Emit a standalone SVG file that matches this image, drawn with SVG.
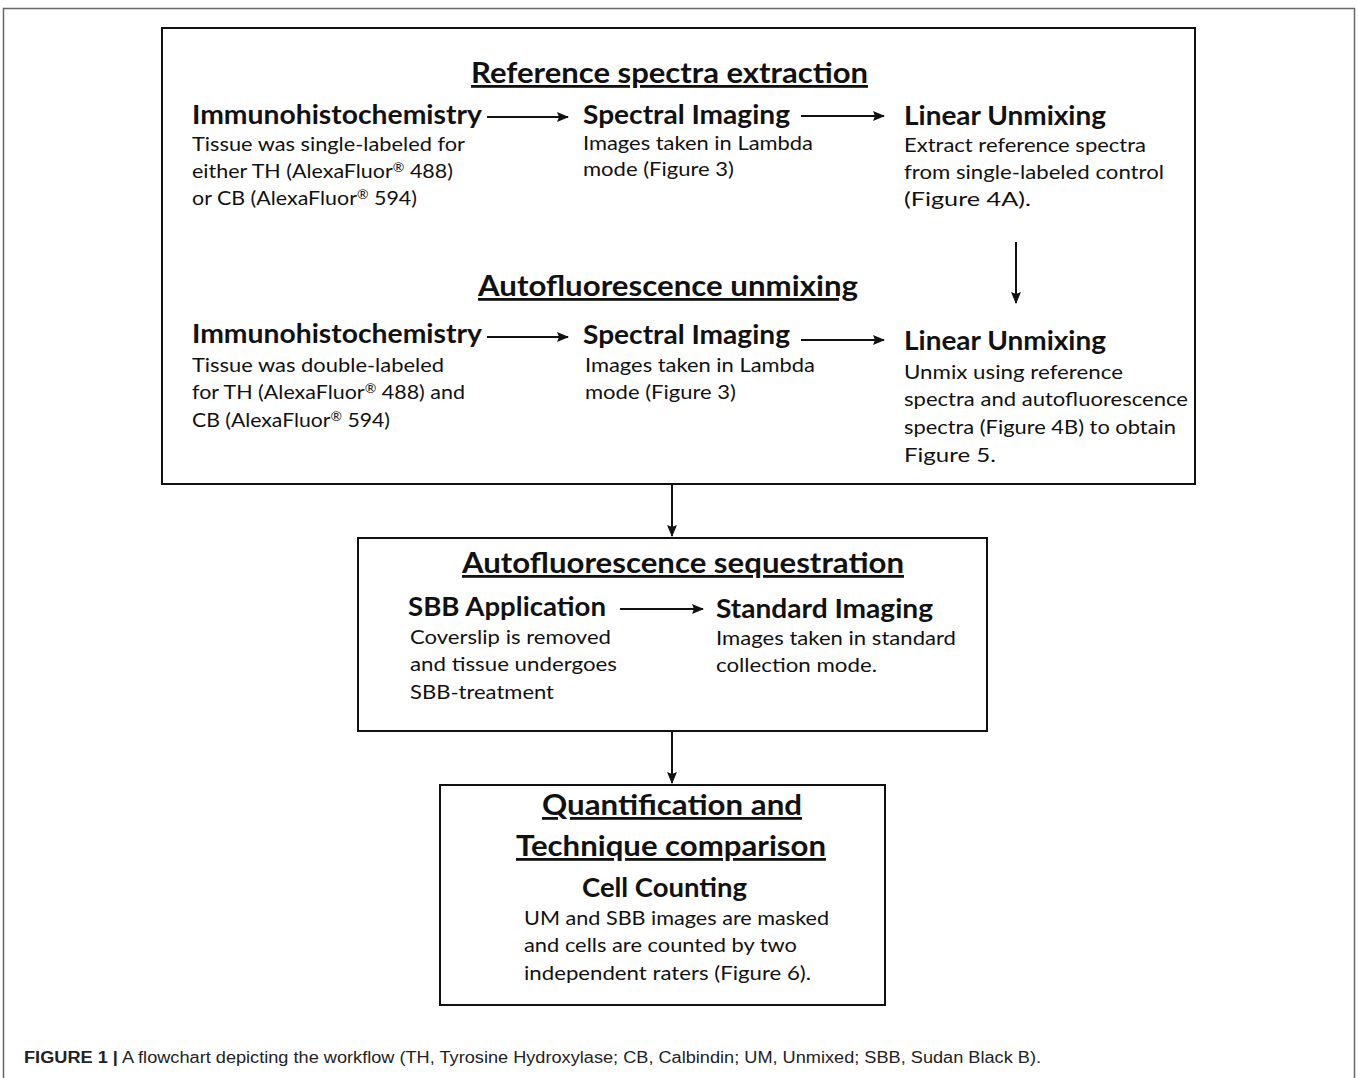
<svg xmlns="http://www.w3.org/2000/svg" width="1358" height="1078" viewBox="0 0 1358 1078">
<defs>
<marker id="ah" markerWidth="12" markerHeight="10" refX="11" refY="5" orient="auto" markerUnits="userSpaceOnUse">
<path d="M0,0 L12,5 L0,10 L2,5 Z" fill="#111"/>
</marker>
<style>
.box{fill:#fff;stroke:#111;stroke-width:2}
.ttl{font-family:Lato,"Open Sans",sans-serif;font-size:28px;font-weight:700;fill:#111;text-decoration:underline}
.hd{font-family:Lato,"Open Sans",sans-serif;font-size:26px;font-weight:700;fill:#111}
.tx{font-family:Lato,"Open Sans",sans-serif;font-size:20px;fill:#111}
.r{font-size:13px;baseline-shift:6px}
.con{stroke:#111;stroke-width:2;fill:none;marker-end:url(#ah)}
.cap{font-family:"Liberation Sans",Arial,sans-serif;font-size:16px;fill:#222}
</style>
</defs>
<rect width="1358" height="1078" fill="#fff"/>
<path d="M3.5,1078 V8.5 H1354.5 V1078" fill="none" stroke="#666" stroke-width="1.5"/>

<g id="box1">
<rect class="box" x="162" y="28" width="1033" height="456"/>
<text class="ttl" x="471" y="83" textLength="397" lengthAdjust="spacingAndGlyphs">Reference spectra  extraction</text>
<text class="ttl" x="478" y="296" textLength="380" lengthAdjust="spacingAndGlyphs">Autofluorescence  unmixing</text>
</g>

<g id="ihc1">
<text class="hd" x="192" y="124" textLength="290" lengthAdjust="spacingAndGlyphs">Immunohistochemistry</text>
<text class="tx" x="192" y="151" textLength="273" lengthAdjust="spacingAndGlyphs">Tissue was single-labeled for</text>
<text class="tx" x="192" y="178" textLength="261" lengthAdjust="spacingAndGlyphs">either TH (AlexaFluor<tspan class="r">®</tspan> 488)</text>
<text class="tx" x="192" y="205" textLength="225" lengthAdjust="spacingAndGlyphs">or CB (AlexaFluor<tspan class="r">®</tspan> 594)</text>
</g>
<g id="spec1">
<text class="hd" x="583" y="124" textLength="207" lengthAdjust="spacingAndGlyphs">Spectral Imaging</text>
<text class="tx" x="583" y="150" textLength="230" lengthAdjust="spacingAndGlyphs">Images taken in Lambda</text>
<text class="tx" x="583" y="176" textLength="151" lengthAdjust="spacingAndGlyphs">mode (Figure 3)</text>
</g>
<g id="lin1">
<text class="hd" x="904" y="125" textLength="202" lengthAdjust="spacingAndGlyphs">Linear Unmixing</text>
<text class="tx" x="904" y="152" textLength="242" lengthAdjust="spacingAndGlyphs">Extract reference spectra</text>
<text class="tx" x="904" y="179" textLength="260" lengthAdjust="spacingAndGlyphs">from single-labeled control</text>
<text class="tx" x="904" y="206" textLength="127" lengthAdjust="spacingAndGlyphs">(Figure 4A).</text>
</g>

<g id="ihc2">
<text class="hd" x="192" y="343" textLength="290" lengthAdjust="spacingAndGlyphs">Immunohistochemistry</text>
<text class="tx" x="192" y="372" textLength="252" lengthAdjust="spacingAndGlyphs">Tissue was double-labeled</text>
<text class="tx" x="192" y="399" textLength="273" lengthAdjust="spacingAndGlyphs">for TH (AlexaFluor<tspan class="r">®</tspan> 488) and</text>
<text class="tx" x="192" y="427" textLength="198" lengthAdjust="spacingAndGlyphs">CB (AlexaFluor<tspan class="r">®</tspan> 594)</text>
</g>
<g id="spec2">
<text class="hd" x="583" y="344" textLength="207" lengthAdjust="spacingAndGlyphs">Spectral Imaging</text>
<text class="tx" x="585" y="372" textLength="230" lengthAdjust="spacingAndGlyphs">Images taken in Lambda</text>
<text class="tx" x="585" y="399" textLength="151" lengthAdjust="spacingAndGlyphs">mode (Figure 3)</text>
</g>
<g id="lin2">
<text class="hd" x="904" y="350" textLength="202" lengthAdjust="spacingAndGlyphs">Linear Unmixing</text>
<text class="tx" x="904" y="379" textLength="219" lengthAdjust="spacingAndGlyphs">Unmix using reference</text>
<text class="tx" x="904" y="406" textLength="284" lengthAdjust="spacingAndGlyphs">spectra and autofluorescence</text>
<text class="tx" x="904" y="434" textLength="272" lengthAdjust="spacingAndGlyphs">spectra (Figure 4B) to obtain</text>
<text class="tx" x="904" y="462" textLength="92" lengthAdjust="spacingAndGlyphs">Figure 5.</text>
</g>

<g id="box2">
<rect class="box" x="358" y="538" width="629" height="193"/>
<text class="ttl" x="462" y="573" textLength="442" lengthAdjust="spacingAndGlyphs">Autofluorescence  sequestration</text>
</g>
<g id="sbb">
<text class="hd" x="408" y="616" textLength="198" lengthAdjust="spacingAndGlyphs">SBB Application</text>
<text class="tx" x="410" y="644" textLength="201" lengthAdjust="spacingAndGlyphs">Coverslip is removed</text>
<text class="tx" x="410" y="671" textLength="207" lengthAdjust="spacingAndGlyphs">and tissue undergoes</text>
<text class="tx" x="410" y="699" textLength="144" lengthAdjust="spacingAndGlyphs">SBB-treatment</text>
</g>
<g id="std">
<text class="hd" x="716" y="618" textLength="217" lengthAdjust="spacingAndGlyphs">Standard Imaging</text>
<text class="tx" x="716" y="645" textLength="240" lengthAdjust="spacingAndGlyphs">Images taken in standard</text>
<text class="tx" x="716" y="672" textLength="161" lengthAdjust="spacingAndGlyphs">collection mode.</text>
</g>

<g id="box3">
<rect class="box" x="440" y="785" width="445" height="220"/>
<text class="ttl" x="542" y="815" textLength="260" lengthAdjust="spacingAndGlyphs">Quantification  and</text>
<text class="ttl" x="516" y="856" textLength="310" lengthAdjust="spacingAndGlyphs">Technique  comparison</text>
<text class="hd" x="582" y="897" textLength="165" lengthAdjust="spacingAndGlyphs">Cell Counting</text>
<text class="tx" x="524" y="925" textLength="305" lengthAdjust="spacingAndGlyphs">UM and SBB images are masked</text>
<text class="tx" x="524" y="952" textLength="273" lengthAdjust="spacingAndGlyphs">and cells are counted by two</text>
<text class="tx" x="524" y="980" textLength="287" lengthAdjust="spacingAndGlyphs">independent raters (Figure 6).</text>
</g>

<g id="connectors">
<line class="con" x1="487" y1="117" x2="568" y2="117"/>
<line class="con" x1="801" y1="116" x2="884" y2="116"/>
<line class="con" x1="1016" y1="242" x2="1016" y2="303"/>
<line class="con" x1="487" y1="337" x2="568" y2="337"/>
<line class="con" x1="801" y1="340" x2="884" y2="340"/>
<line class="con" x1="672" y1="485" x2="672" y2="536"/>
<line class="con" x1="620" y1="609" x2="703" y2="609"/>
<line class="con" x1="672" y1="732" x2="672" y2="783"/>
</g>

<g id="caption">
<text class="cap" x="24" y="1063" textLength="1017" lengthAdjust="spacingAndGlyphs"><tspan font-weight="700">FIGURE 1 |</tspan> A flowchart depicting the workflow (TH, Tyrosine Hydroxylase; CB, Calbindin; UM, Unmixed; SBB, Sudan Black B).</text>
</g>
</svg>
